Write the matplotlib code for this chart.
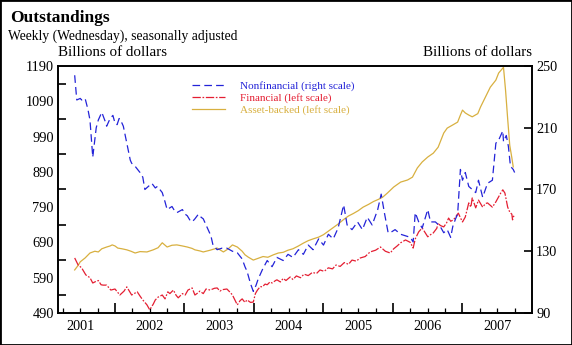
import matplotlib
matplotlib.use('Agg')
import matplotlib.pyplot as plt
from matplotlib.lines import Line2D
from matplotlib.patches import Rectangle

plt.rcParams['font.family'] = ['Liberation Serif', 'DejaVu Serif']
plt.rcParams['lines.scale_dashes'] = False

# ---------------- data (decimal years, billions of dollars) ----------------
nonfin_t = [2001.42, 2001.45, 2001.50, 2001.52, 2001.57, 2001.61, 2001.64, 2001.68, 2001.73, 2001.76,
            2001.81, 2001.86, 2001.88, 2001.93, 2001.97, 2002.00, 2002.03, 2002.06, 2002.09, 2002.12,
            2002.17, 2002.22, 2002.24, 2002.29, 2002.36, 2002.40, 2002.43, 2002.48, 2002.53, 2002.58,
            2002.61, 2002.68, 2002.72, 2002.75, 2002.82, 2002.86, 2002.89, 2002.97, 2003.01, 2003.04,
            2003.08, 2003.11, 2003.15, 2003.20, 2003.24, 2003.27, 2003.30, 2003.34, 2003.38, 2003.41,
            2003.47, 2003.54, 2003.61, 2003.69, 2003.76, 2003.83, 2003.87, 2003.90, 2003.95, 2003.99,
            2004.03, 2004.06, 2004.12, 2004.19, 2004.26, 2004.33, 2004.42, 2004.49, 2004.56, 2004.64,
            2004.71, 2004.78, 2004.85, 2004.93, 2005.00, 2005.07, 2005.14, 2005.21, 2005.29, 2005.34,
            2005.41, 2005.49, 2005.56, 2005.63, 2005.70, 2005.78, 2005.83, 2005.88, 2005.93, 2005.96,
            2006.03, 2006.11, 2006.18, 2006.25, 2006.29, 2006.32, 2006.37, 2006.42, 2006.50, 2006.54,
            2006.61, 2006.68, 2006.73, 2006.78, 2006.83, 2006.86, 2006.90, 2006.93, 2006.97, 2007.00,
            2007.04, 2007.09, 2007.14, 2007.19, 2007.23, 2007.29, 2007.36, 2007.43, 2007.48, 2007.52,
            2007.58, 2007.59, 2007.63, 2007.66, 2007.69, 2007.73, 2007.75]
nonfin_v = [244, 228, 229, 228, 229, 222, 215, 191, 210, 215,
            220, 214, 211, 216, 218, 213, 212, 216, 214, 211,
            200, 189, 187, 185, 181, 178, 170, 172, 174, 171,
            172, 168, 162, 157, 159, 156, 155, 157, 154, 153,
            150, 149, 151, 154, 152, 151, 148, 144, 140, 134,
            131, 132, 132, 130, 129, 125, 120, 117, 109, 104,
            108, 112, 118, 124, 120, 126, 124, 128, 126, 131,
            128, 134, 131, 138, 134, 141, 138, 145, 160, 147,
            144, 149, 144, 152, 147, 157, 167, 154, 142, 142,
            144, 141, 140, 139, 136, 155, 149, 145, 157, 149,
            149, 146, 142, 144, 139, 146, 151, 154, 183, 176,
            181, 172, 170, 168, 176, 165, 174, 176, 200, 202,
            208, 201, 205, 198, 185, 183, 181]

fin_t = [2001.42, 2001.47, 2001.52, 2001.58, 2001.64, 2001.68, 2001.73, 2001.76, 2001.80, 2001.83,
         2001.88, 2001.94, 2002.00, 2002.07, 2002.13, 2002.17, 2002.22, 2002.24, 2002.32, 2002.36,
         2002.40, 2002.46, 2002.50, 2002.55, 2002.58, 2002.62, 2002.68, 2002.72, 2002.76, 2002.79,
         2002.84, 2002.88, 2002.91, 2002.97, 2003.01, 2003.05, 2003.11, 2003.15, 2003.20, 2003.22,
         2003.27, 2003.31, 2003.37, 2003.43, 2003.47, 2003.51, 2003.54, 2003.61, 2003.66, 2003.69,
         2003.73, 2003.76, 2003.80, 2003.83, 2003.87, 2003.90, 2003.95, 2003.99, 2004.02, 2004.05,
         2004.09, 2004.12, 2004.16, 2004.19, 2004.23, 2004.26, 2004.31, 2004.33, 2004.38, 2004.42,
         2004.46, 2004.52, 2004.56, 2004.61, 2004.67, 2004.72, 2004.78, 2004.84, 2004.90, 2004.95,
         2005.01, 2005.07, 2005.13, 2005.18, 2005.24, 2005.30, 2005.36, 2005.41, 2005.47, 2005.53,
         2005.60, 2005.67, 2005.75, 2005.82, 2005.89, 2005.96, 2006.01, 2006.06, 2006.11, 2006.18,
         2006.25, 2006.29, 2006.32, 2006.37, 2006.42, 2006.47, 2006.50, 2006.54, 2006.58, 2006.63,
         2006.65, 2006.68, 2006.73, 2006.77, 2006.80, 2006.83, 2006.87, 2006.91, 2006.94, 2006.97,
         2007.00, 2007.04, 2007.09, 2007.12, 2007.14, 2007.19, 2007.23, 2007.29, 2007.33, 2007.36,
         2007.40, 2007.43, 2007.48, 2007.52, 2007.55, 2007.58, 2007.61, 2007.65, 2007.68, 2007.71,
         2007.72, 2007.73, 2007.75]
fin_v = [646, 626, 618, 598, 590, 575, 580, 582, 570, 569,
         569, 555, 558, 541, 552, 564, 548, 541, 550, 538,
         527, 513, 499, 515, 527, 535, 541, 530, 550, 545,
         555, 540, 533, 545, 541, 555, 561, 541, 548, 552,
         545, 558, 555, 560, 561, 552, 556, 558, 548, 541,
         525, 513, 525, 530, 520, 527, 520, 521, 545, 555,
         565, 564, 572, 570, 578, 575, 582, 584, 578, 588,
         582, 592, 585, 595, 590, 600, 596, 605, 602, 612,
         608, 618, 615, 626, 622, 633, 628, 640, 637, 646,
         650, 663, 668, 677, 665, 660, 672, 680, 689, 697,
         690, 674, 700, 720, 731, 715, 706, 712, 717, 730,
         745, 738, 734, 745, 759, 750, 754, 765, 773, 760,
         748, 762, 802, 790, 816, 788, 810, 790, 800, 802,
         795, 790, 805, 819, 830, 839, 830, 790, 776, 770,
         754, 762, 768]

abs_t = [2001.42, 2001.47, 2001.50, 2001.57, 2001.64, 2001.71, 2001.76, 2001.81, 2001.88, 2001.93,
         2001.96, 2002.00, 2002.04, 2002.10, 2002.17, 2002.23, 2002.29, 2002.36, 2002.46, 2002.55,
         2002.62, 2002.68, 2002.75, 2002.82, 2002.89, 2002.97, 2003.04, 2003.11, 2003.15, 2003.22,
         2003.27, 2003.37, 2003.47, 2003.56, 2003.63, 2003.69, 2003.76, 2003.83, 2003.87, 2003.92,
         2003.99, 2004.06, 2004.13, 2004.20, 2004.28, 2004.35, 2004.42, 2004.49, 2004.56, 2004.64,
         2004.71, 2004.78, 2004.85, 2004.93, 2005.00, 2005.07, 2005.14, 2005.21, 2005.29, 2005.36,
         2005.43, 2005.50, 2005.57, 2005.65, 2005.72, 2005.79, 2005.85, 2005.92, 2006.01, 2006.11,
         2006.21, 2006.28, 2006.35, 2006.42, 2006.50, 2006.58, 2006.65, 2006.73, 2006.78, 2006.86,
         2006.93, 2006.97, 2007.00, 2007.04, 2007.09, 2007.14, 2007.22, 2007.26, 2007.33, 2007.40,
         2007.48, 2007.52, 2007.58, 2007.59, 2007.62, 2007.65, 2007.68, 2007.71, 2007.73]
abs_v = [612, 625, 635, 646, 660, 665, 663, 672, 677, 680,
         683, 680, 674, 672, 669, 665, 660, 664, 663, 669,
         675, 689, 677, 682, 683, 680, 677, 673, 669, 666,
         663, 668, 674, 663, 672, 683, 677, 665, 655, 648,
         640, 645, 650, 648, 655, 660, 662, 668, 672, 680,
         688, 695, 700, 705, 712, 722, 732, 742, 755, 765,
         772, 780, 790, 798, 806, 812, 818, 830, 847, 861,
         867, 875, 901, 918, 932, 943, 960, 1000, 1014, 1023,
         1031, 1051, 1065, 1057, 1051, 1046, 1055, 1074, 1102, 1130,
         1150, 1170, 1184, 1186, 1120, 1040, 965, 930, 904]

year_labels = ['2001', '2002', '2003', '2004', '2005', '2006', '2007']
left_ticks = [490, 590, 690, 790, 890, 990, 1090, 1190]
right_ticks = [90, 130, 170, 210, 250]

BLUE = '#2323d8'
RED = '#e41e32'
GOLD = '#d8b040'

# ---------------- figure ----------------
fig = plt.figure(figsize=(5.72, 3.45), dpi=100)
ax = fig.add_axes([58 / 572, 32 / 345, 474 / 572, 247 / 345])
ax2 = ax.twinx()

ax.plot(abs_t, abs_v, color=GOLD, lw=0.9, zorder=2)
ax.plot(fin_t, fin_v, color=RED, lw=0.9, dashes=(6, 1.2, 1.2, 1.2), zorder=3)
ax2.plot(nonfin_t, nonfin_v, color=BLUE, lw=0.9, dashes=(5.5, 3), zorder=4)

ax.set_xlim(2001.18, 2008.0)
ax.set_ylim(490, 1190)
ax2.set_ylim(90, 250)

for a in (ax, ax2):
    for s in a.spines.values():
        s.set_linewidth(1.2)

# x ticks: year boundaries (major), quarters (minor), labels at mid-year
years = [2002, 2003, 2004, 2005, 2006, 2007]
ax.set_xticks(years)
ax.set_xticks([y + q for y in range(2001, 2008) for q in (0.25, 0.5, 0.75)], minor=True)
ax.tick_params(axis='x', which='major', direction='in', length=7, width=1.2, labelbottom=False, top=False)
ax.tick_params(axis='x', which='minor', direction='in', length=3.5, width=0.9, top=False)
sec = ax.secondary_xaxis('bottom')
sec.set_xticks([int(y) + 0.5 for y in year_labels], labels=year_labels)
sec.tick_params(length=0, pad=5, labelsize=10.3)
sec.spines['bottom'].set_visible(False)

# left y
ax.set_yticks(left_ticks)
ax.set_yticks([v + 50 for v in left_ticks[:-1]], minor=True)
ax.tick_params(axis='y', which='major', length=0, pad=3, labelsize=10.3)
ax.tick_params(axis='y', which='minor', direction='in', length=6, width=1.2)

# right y
ax2.set_yticks(right_ticks)
ax2.tick_params(axis='y', which='major', direction='in', length=6, width=1.2, pad=3, labelsize=10.3)

# legend
handles = [Line2D([], [], color=BLUE, lw=0.9, dashes=(5.5, 3)),
           Line2D([], [], color=RED, lw=0.9, dashes=(6, 1.2, 1.2, 1.2)),
           Line2D([], [], color=GOLD, lw=0.9)]
labels = ['Nonfinancial (right scale)', 'Financial (left scale)', 'Asset-backed (left scale)']
ax2.legend(handles, labels, loc='upper left', bbox_to_anchor=(0.283, 0.94), frameon=False,
           fontsize=8, handlelength=3.0, handletextpad=1.3, labelspacing=0.2,
           borderpad=0, borderaxespad=0, labelcolor='linecolor')

# texts
fig.text(10 / 572, 1 - 18 / 345, 'Outstandings', fontsize=12.5, fontweight='bold', va='center', ha='left')
fig.text(8 / 572, 1 - 36 / 345, 'Weekly (Wednesday), seasonally adjusted', fontsize=9.8, va='center', ha='left')
fig.text(58 / 572, 1 - 52 / 345, 'Billions of dollars', fontsize=10.8, va='center', ha='left')
fig.text(532 / 572, 1 - 52 / 345, 'Billions of dollars', fontsize=10.8, va='center', ha='right')

fig.patches.append(Rectangle((0, 0), 1, 1, transform=fig.transFigure, fill=False, lw=2, ec='black'))

fig.savefig('out.png', dpi=100)
